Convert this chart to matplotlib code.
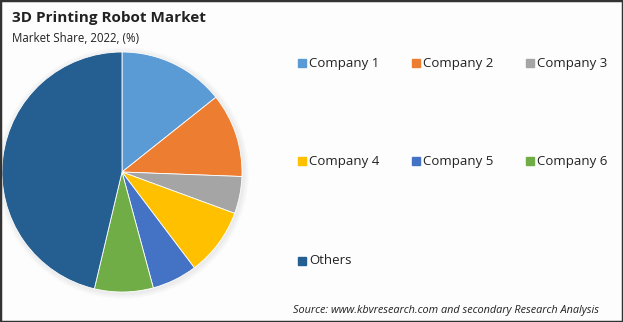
"""3D Printing Robot Market - market share pie chart"""
import matplotlib
matplotlib.use('Agg')
import matplotlib.pyplot as plt
from matplotlib.patches import Circle, Rectangle

plt.rcParams['font.family'] = ['Open Sans', 'DejaVu Sans']

# data
companies = ['Company 1', 'Company 2', 'Company 3', 'Company 4', 'Company 5', 'Company 6', 'Others']
shares = [14.3, 11.3, 5.0, 9.1, 6.1, 7.9, 46.3]
colors = ['#5B9BD5', '#ED7D31', '#A5A5A5', '#FFC000', '#4472C4', '#70AD47', '#255E91']

W, H = 623, 322
fig = plt.figure(figsize=(W / 100, H / 100), dpi=100)
fig.patch.set_facecolor('#fdfdfd')

# pie: centre (122, 172) px, radius 120 px
lim = 1.08
r_px = 120 * lim
cx, cy = 122, 172
ax = fig.add_axes([(cx - r_px) / W, (H - cy - r_px) / H, 2 * r_px / W, 2 * r_px / H])

# soft shadow round the pie
for k in range(6):
    ax.add_patch(Circle((0.01, -0.01), 1.0 + 0.008 * (k + 1), color='#000000', alpha=0.012, lw=0))

ax.pie(shares, colors=colors, startangle=90, counterclock=False, radius=1.0,
       wedgeprops=dict(linewidth=0.6, edgecolor='white'))
ax.set_xlim(-lim, lim)
ax.set_ylim(-lim, lim)
ax.set_aspect('equal')
ax.axis('off')

# title
fig.text(12 / W, 1 - 18 / H, '3D Printing Robot Market', fontsize=11, fontweight='bold',
         color='#222222', va='center', ha='left')
fig.text(12 / W, 1 - 38 / H, 'Market Share, 2022, (%)', fontsize=8.3, color='#222222',
         va='center', ha='left')

# legend, 3 columns
col_x = [298, 412, 526]
row_y = [63, 161, 261]
sq = 8
for i, (name, c) in enumerate(zip(companies, colors)):
    x = col_x[i % 3]
    y = row_y[i // 3]
    fig.patches.append(Rectangle((x / W, (H - y - sq / 2) / H), sq / W, sq / H,
                                 transform=fig.transFigure, color=c, figure=fig))
    fig.text((x + sq + 3) / W, 1 - y / H, name, fontsize=9.5, color='#222222',
             va='center', ha='left')

fig.text(293 / W, 1 - 311 / H, 'Source: www.kbvresearch.com and secondary Research Analysis',
         fontsize=7.8, style='italic', color='#222222', va='center', ha='left')

# dark frame
fig.patches.append(Rectangle((0, 0), 1, 1, transform=fig.transFigure, fill=False,
                             edgecolor='#333333', linewidth=2.5, figure=fig))

fig.savefig('out.png', dpi=100, facecolor=fig.get_facecolor())
plt.close(fig)
